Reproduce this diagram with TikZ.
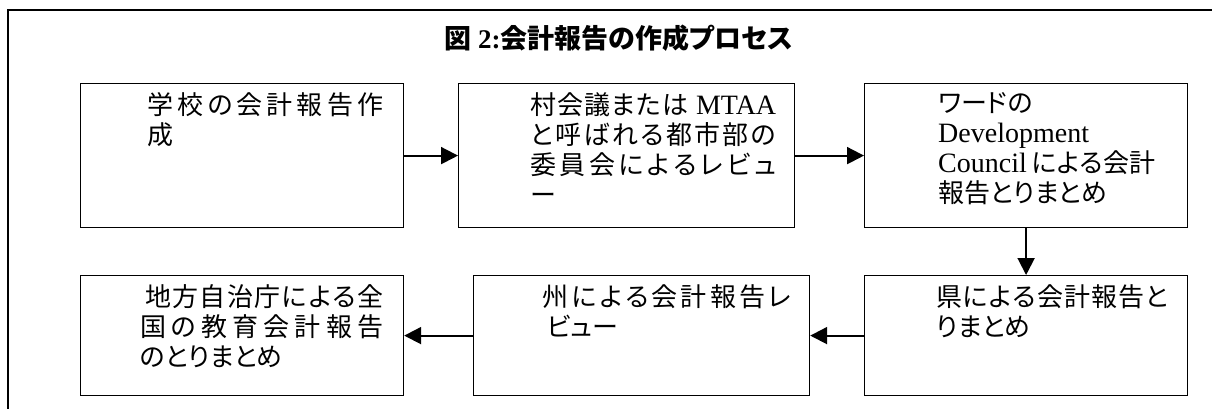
\documentclass[tikz,border=0pt]{standalone}
\usepackage{fontspec}
\setmainfont{Liberation Serif}
\newfontfamily\cjk{Noto Sans CJK JP}[RawFeature=+palt]
\newfontfamily\lat{Liberation Serif}
\usetikzlibrary{arrows.meta}
\makeatletter
\newcommand\jline[2]{\makebox[#1][s]{\@tempswafalse\@tfor\jl@t:=#2\do{\if@tempswa\hfil\fi\@tempswatrue\jl@t}}}
\makeatother
\tikzset{
  box/.style={draw, line width=1.2pt, inner sep=0pt, anchor=north west},
  txt/.style={anchor=north west, inner sep=0pt, align=left, font=\cjk\fontsize{26}{30}\selectfont},
  arr/.style={line width=2pt, -{Triangle[length=17pt,width=17pt]}},
}
\begin{document}
\begin{tikzpicture}[x=1pt,y=-1pt]
\useasboundingbox (0,0) rectangle (1212,409);
\draw[line width=1.2pt] (8,409) -- (8,10) -- (1212,10);
\node[font=\cjk\bfseries\fontsize{27}{30}\selectfont] (title) at (619,38) {図 {\lat\bfseries 2:}会計報告の作成プロセス};
% top row
\node[box, minimum width=323pt, minimum height=144pt] (b1) at (80,83) {};
\node[box, minimum width=336pt, minimum height=144pt] (b2) at (458,83) {};
\node[box, minimum width=323pt, minimum height=144pt] (b3) at (864,83) {};
% bottom row
\node[box, minimum width=323pt, minimum height=120pt] (b4) at (80,275) {};
\node[box, minimum width=336pt, minimum height=120pt] (b5) at (473,275) {};
\node[box, minimum width=323pt, minimum height=120pt] (b6) at (864,275) {};
% texts
\node[txt] (t1) at ([shift={(67,9)}]b1.north west) {\jline{236pt}{学校の会計報告作}\\成};
\node[txt] (t2) at ([shift={(72,9)}]b2.north west) {\jline{246pt}{村会議または{{\lat\fontsize{28}{30}\selectfont\ MTAA}}}\\\jline{246pt}{と呼ばれる都市部の}\\\jline{246pt}{委員会によるレビュ}\\ー};
\node[txt] (t3) at ([shift={(74,9)}]b3.north west) {ワードの\\{\lat\fontsize{28}{30}\selectfont Development}\\\jline{217pt}{{{\lat\fontsize{28}{30}\selectfont Council\ }}による会計}\\報告とりまとめ};
\node[txt] (t4) at ([shift={(60,9)}]b4.north west) {\hspace{5pt}\jline{238pt}{地方自治庁による全}\\\jline{243pt}{国の教育会計報告}\\のとりまとめ};
\node[txt] (t5) at ([shift={(69,9)}]b5.north west) {\jline{249pt}{州による会計報告レ}\\\hspace{5pt}ビュー};
\node[txt] (t6) at ([shift={(72,9)}]b6.north west) {\jline{232pt}{県による会計報告と}\\りまとめ};
% arrows
\draw[arr] (b1.east) -- (b2.west);
\draw[arr] (b2.east) -- (b3.west);
\draw[arr] (b3.south) -- (b6.north);
\draw[arr] (b6.west) -- (b5.east);
\draw[arr] (b5.west) -- (b4.east);
\end{tikzpicture}
\end{document}
